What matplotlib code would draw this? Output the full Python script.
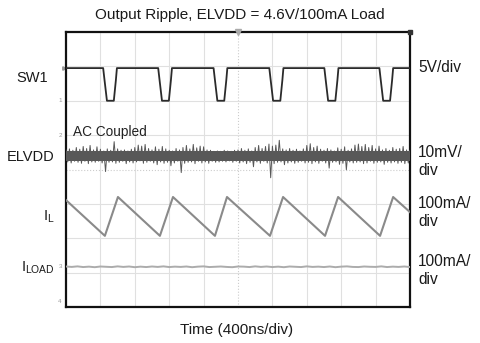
import numpy as np
import matplotlib.pyplot as plt

plt.rcParams['font.family'] = ['Liberation Sans', 'DejaVu Sans']

W, H = 480, 343

# scope screen: 10 x 400ns horizontal divisions, 8 vertical divisions (0 = bottom)
# SW1 (5V/div): switch node edges, in divisions
sw_fall = [1.08, 2.68, 4.29, 5.91, 7.51, 9.11]
sw_rise = [1.48, 3.08, 4.69, 6.32, 7.92, 9.51]
sw_high = 6.95
sw_low = 6.0

# I_L (100mA/div): triangle valleys / peaks
il_valley_t = [1.13, 2.73, 4.33, 5.93, 7.53, 9.13]
il_peak_t = [1.51, 3.11, 4.68, 6.31, 7.91, 9.51]
il_valley = 2.07
il_peak = 3.2
il_start = 3.11
il_end = 2.76

# ELVDD (10mV/div, AC coupled): noise envelope in mV, 101 columns across the screen
elvdd_level = 4.39
elvdd_hi = [1.8, 2.1, 1.7, 2.5, 2.0, 2.8, 2.2, 3.1, 1.8, 2.7,
            2.0, 1.5, 2.1, 1.7, 4.2, 2.1, 1.7, 1.8, 1.5, 2.0,
            2.5, 3.2, 2.9, 3.4, 2.2, 1.8, 2.7, 2.0, 2.8, 2.1,
            1.7, 1.5, 2.2, 1.8, 2.5, 3.1, 2.1, 3.4, 2.4, 2.9,
            2.7, 1.8, 1.7, 1.4, 1.5, 1.4, 1.7, 1.5, 1.4, 1.7,
            1.8, 2.2, 1.7, 2.1, 1.5, 2.5, 3.1, 2.2, 2.8, 3.5,
            2.9, 3.2, 4.6, 2.1, 1.8, 2.2, 1.7, 2.0, 1.5, 2.1,
            3.1, 3.6, 2.5, 2.9, 2.0, 1.7, 2.2, 1.8, 1.5, 2.4,
            2.0, 2.7, 1.7, 2.1, 3.2, 3.5, 2.8, 3.4, 2.5, 3.1,
            2.1, 2.9, 1.8, 2.2, 1.7, 2.5, 2.0, 2.2, 2.8, 1.8, 1.7]
elvdd_lo = [-1.7, -2.0, -1.5, -1.8, -2.1, -1.5, -2.2, -1.7, -1.8, -1.5,
            -2.0, -4.5, -1.8, -1.7, -2.1, -1.8, -1.5, -2.2, -1.7, -2.0,
            -1.7, -1.4, -2.1, -1.8, -1.5, -2.0, -2.5, -1.7, -2.1, -1.8,
            -2.8, -2.0, -1.5, -4.8, -2.1, -1.8, -1.7, -2.2, -1.5, -2.0,
            -1.7, -2.1, -1.5, -1.8, -1.7, -1.5, -1.7, -1.4, -1.8, -1.5,
            -2.0, -1.7, -2.2, -1.8, -3.1, -1.7, -2.1, -1.5, -2.0, -6.3,
            -2.2, -1.8, -1.7, -2.5, -2.0, -1.7, -2.1, -1.8, -1.5, -2.0,
            -1.8, -2.2, -1.7, -2.1, -1.5, -2.0, -3.5, -1.8, -1.7, -2.4,
            -2.1, -4.0, -1.7, -2.0, -1.8, -1.7, -2.2, -2.0, -1.5, -2.1,
            -1.8, -1.7, -2.4, -1.8, -2.0, -1.7, -2.1, -1.8, -2.2, -2.0, -4.5]

# I_LOAD (100mA/div): flat with a little noise, mA
iload_level = 1.17
iload_noise = [2, -1, 3, -2, 1, -3, 2, 0, -2, 3, -1, 2, -3, 1, -2, 2, -1, 3, -2, 1,
               -1, 2, -3, 1, 3, -2, 0, 2, -1, -3, 2, 1, -2, 3, -1, 2, -2, 1, -3, 2,
               0, -2, 3, -1, 1, -2, 2, -3, 1, 3, -1, -2, 2, 0, -1, 3, -2, 1, -1, 2, -2]

fig = plt.figure(figsize=(W / 100, H / 100), dpi=100)
ax = fig.add_axes([66 / W, (H - 307) / H, 344 / W, 275 / H])
ax.set_xlim(0, 10)
ax.set_ylim(0, 8)
ax.set_xticks([])
ax.set_yticks([])
for s in ax.spines.values():
    s.set_linewidth(1.6)
    s.set_color('#111111')

# graticule
for gx in range(1, 10):
    if gx == 5:
        ax.axvline(gx, color='#cccccc', lw=0.8, ls=':', zorder=0)
    else:
        ax.axvline(gx, color='#e0e0e0', lw=0.8, zorder=0)
for gy in range(1, 8):
    if gy == 4:
        ax.axhline(gy, color='#cccccc', lw=0.8, ls=':', zorder=0)
    else:
        ax.axhline(gy, color='#e0e0e0', lw=0.8, zorder=0)

# SW1
sx, sy = [0], [sw_high]
for f, r in zip(sw_fall, sw_rise):
    sx += [f, f + 0.04, f + 0.11, r - 0.09, r - 0.03, r]
    sy += [sw_high, sw_high - 0.35, sw_low, sw_low, sw_low + 0.6, sw_high]
sx.append(10)
sy.append(sw_high)
ax.plot(sx, sy, color='#2b2b2b', lw=1.3, zorder=3)

# ELVDD: solid core band plus fine peak-to-peak zigzag
t = np.linspace(0, 10, len(elvdd_hi))
core_hi = [elvdd_level + min(h, 1.5) / 10 for h in elvdd_hi]
core_lo = [elvdd_level + max(l, -1.4) / 10 for l in elvdd_lo]
ax.fill_between(t, core_lo, core_hi, step='mid', color='#585858', lw=0, zorder=3)
dt = t[1] / 2
ex, ey = [], []
for ti, hi, lo in zip(t, elvdd_hi, elvdd_lo):
    ex += [ti, ti + dt]
    ey += [elvdd_level + hi / 10, elvdd_level + lo / 10]
ax.plot(ex, ey, color='#585858', lw=0.7, zorder=3)

# I_L
lx, ly = [0], [il_start]
for v, p in zip(il_valley_t, il_peak_t):
    lx += [v, p]
    ly += [il_valley, il_peak]
lx.append(10)
ly.append(il_end)
ax.plot(lx, ly, color='#8a8a8a', lw=1.5, zorder=3)

# I_LOAD
tl = np.linspace(0, 10, len(iload_noise))
ax.plot(tl, [iload_level + n / 250 for n in iload_noise], color='#acacac', lw=1.4, zorder=3)

# trigger / channel markers
ax.plot([5], [8], marker='v', ms=4, color='#aaaaaa', clip_on=False, zorder=4)
ax.plot([10], [8], marker='s', ms=2.5, color='#333333', clip_on=False, zorder=4)
for lab, lvl in [('1', sw_low), ('2', 5.0), ('3', iload_level), ('4', 0.17)]:
    ax.text(-0.12, lvl, lab, fontsize=4.5, color='#999999', ha='right', va='center')
ax.plot([-0.05], [sw_high], marker='>', ms=2.5, color='#999999', clip_on=False)

ax.text(0.2, 5.08, 'AC Coupled', fontsize=9.8, color='#222222', va='center')

# labels
def ftext(x, y, s, **kw):
    fig.text(x / W, 1 - y / H, s, va='center', color='#1a1a1a', **kw)

ftext(240, 15, 'Output Ripple, ELVDD = 4.6V/100mA Load', fontsize=11, ha='center')
ftext(237, 330, 'Time (400ns/div)', fontsize=11, ha='center')

ftext(48, 78, 'SW1', fontsize=10.5, ha='right')
ftext(55, 157, 'ELVDD', fontsize=10.5, ha='right')
ftext(55, 217, r'I$_\mathregular{L}$', fontsize=10.5, ha='right')
ftext(55, 268, r'I$_\mathregular{LOAD}$', fontsize=10.5, ha='right')

ftext(418, 68, '5V/div', fontsize=11.2, ha='left')
ftext(418, 152, '10mV/', fontsize=11.2, ha='left')
ftext(418, 171, 'div', fontsize=11.2, ha='left')
ftext(418, 203, '100mA/', fontsize=11.2, ha='left')
ftext(418, 222, 'div', fontsize=11.2, ha='left')
ftext(418, 261, '100mA/', fontsize=11.2, ha='left')
ftext(418, 280, 'div', fontsize=11.2, ha='left')

fig.savefig('out.png', dpi=100)
